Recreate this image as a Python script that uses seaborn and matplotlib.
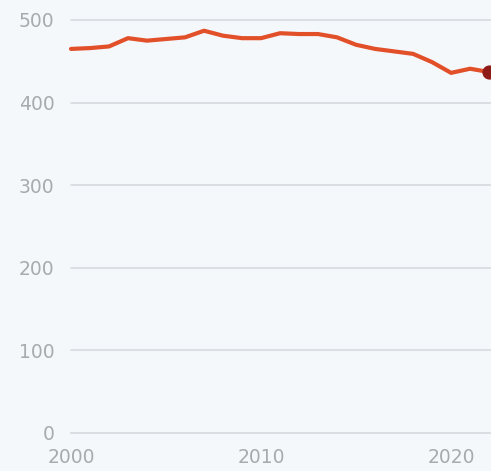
import matplotlib
matplotlib.use("Agg")
import matplotlib.pyplot as plt
import seaborn as sns
import pandas as pd

years = list(range(2000, 2023))
values = [465, 466, 468, 478, 475, 477, 479, 487, 481, 478, 478, 484,
          483, 483, 479, 470, 465, 462, 459, 449, 436, 441, 437]
y_ticks = [0, 100, 200, 300, 400, 500]
x_ticks = [2000, 2010, 2020]

BG = "#F5F8FB"
LINE = "#E2502A"
DOT = "#8E1B17"
GRID = "#D9DDE1"
TXT = "#A8ABAE"

sns.set_style("white")
plt.rcParams["font.family"] = ["DejaVu Sans"]

df = pd.DataFrame({"year": years, "value": values})

fig = plt.figure(figsize=(4.91, 4.71), dpi=100)
fig.patch.set_facecolor(BG)
ax = fig.add_axes([71 / 491, 38 / 471, 420 / 491, 413 / 471])
ax.set_facecolor(BG)

sns.lineplot(data=df, x="year", y="value", ax=ax, color=LINE, linewidth=3.0,
             solid_capstyle="round", solid_joinstyle="round", clip_on=False, zorder=3)
ax.scatter([years[-1]], [values[-1]], s=85, color=DOT, zorder=4, clip_on=False)

ax.set_xlim(2000, 2022.1)
ax.set_ylim(0, 500)
ax.set_yticks(y_ticks)
ax.set_xticks(x_ticks)
ax.set_xlabel("")
ax.set_ylabel("")

for y in y_ticks[1:]:
    ax.axhline(y, color=GRID, linewidth=1.3, zorder=1, clip_on=False)

for s in ["top", "right", "left"]:
    ax.spines[s].set_visible(False)
ax.spines["bottom"].set_color(GRID)
ax.spines["bottom"].set_linewidth(1.3)

ax.tick_params(axis="y", length=0, pad=12, labelsize=13.5, labelcolor=TXT)
ax.tick_params(axis="x", length=4, width=1, color="#C8CCD0", pad=7,
               labelsize=13.5, labelcolor=TXT)

fig.savefig("out.png", dpi=100, facecolor=BG)
